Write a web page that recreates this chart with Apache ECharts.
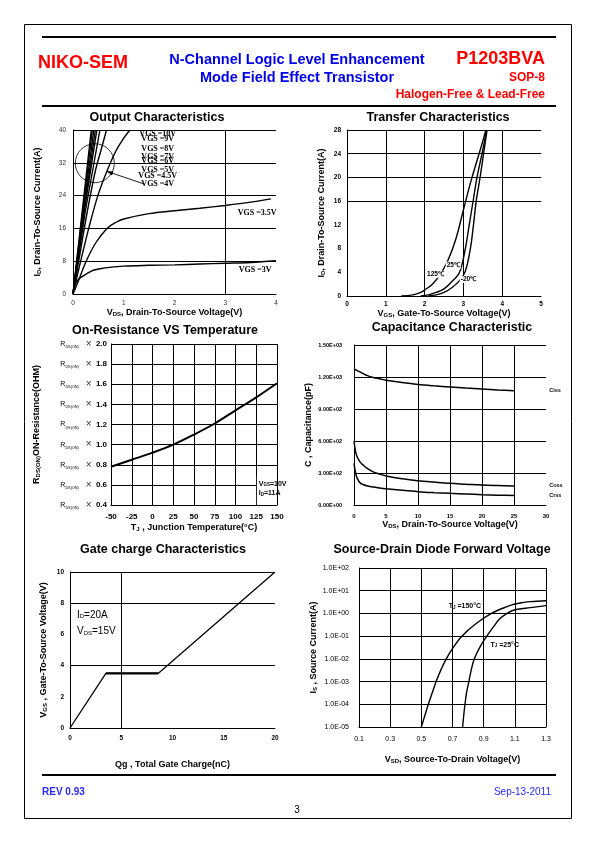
<!DOCTYPE html>
<html><head><meta charset="utf-8">
<script src="https://cdn.jsdelivr.net/npm/echarts@6/dist/echarts.min.js"></script>
<style>html,body{margin:0;padding:0;background:#fff}#c{width:595px;height:842px}</style>
</head><body><div id="c"></div>
<script>
// ===== DATA =====
// Output characteristics: [VDS (V), ID (A)]
const out_10V = [[0,0],[0.18,20],[0.36,40]];
const out_9V  = [[0,0],[0.19,20],[0.38,40]];
const out_8V  = [[0,0],[0.2,20],[0.41,40]];
const out_7V  = [[0,0],[0.21,20],[0.44,40]];
const out_6V  = [[0,0],[0.22,20],[0.47,40]];
const out_5V  = [[0,0],[0.24,20],[0.53,40]];
const out_45V = [[0,0],[0.14,10],[0.28,20],[0.44,30],[0.55,35],[0.66,40]];
const out_4V  = [[0,0],[0.16,8.5],[0.32,16.5],[0.49,24],[0.67,30],[0.85,35],[1.0,38],[1.12,40]];
const out_35V = [[0,0],[0.1,3],[0.26,8],[0.45,12.5],[0.67,16],[0.85,17.5],[1,18.3],[1.5,19.6],[2,20.3],[2.5,20.9],[3,21.6],[3.5,22.4],[3.9,23.2]];
const out_3V  = [[0,0],[0.03,2],[0.08,3.2],[0.15,4],[0.25,4.8],[0.4,5.8],[0.6,6.3],[1,6.8],[1.5,7.0],[2,7.1],[2.5,7.3],[3,7.5],[3.5,7.7],[4,8.1]];
const outLabels = ['VGS =10V','VGS =9V','VGS =8V','VGS =7V','VGS =6V','VGS =5V','VGS =4.5V','VGS =4V'];

// Transfer characteristics: [VGS (V), ID (A)]
const tr_125C = [[1.4,0],[1.7,0.2],[1.9,0.6],[2.0,1.0],[2.2,2.0],[2.4,3.6],[2.6,6.0],[2.8,9.5],[3.0,14.5],[3.2,19.5],[3.45,25],[3.58,28]];
const tr_25C  = [[1.9,0],[2.1,0.2],[2.3,0.6],[2.5,1.2],[2.7,2.4],[2.9,4.0],[3.05,8],[3.15,12],[3.25,16],[3.35,20],[3.48,24],[3.6,28]];
const tr_m20C = [[2.1,0],[2.3,0.2],[2.5,0.6],[2.7,1.4],[2.9,2.6],[3.05,4.2],[3.18,8],[3.26,12],[3.33,16],[3.43,20],[3.52,24],[3.61,28]];
const trGridY = [16,20,24,28];

// On-resistance vs temperature
const ron_T = [-50,-25,0,25,50,75,100,125,150];
const ron_R = [0.78,0.85,0.92,1.0,1.1,1.21,1.34,1.47,1.61];

// Capacitance (pF) vs VDS
const cap_V = [0,0.25,0.5,1,1.5,2,3,4,5,7.5,10,12.5,15,17.5,20,22.5,25];
const ciss  = [1275,1268,1260,1245,1230,1215,1195,1183,1170,1148,1130,1117,1106,1096,1087,1078,1070];
const coss  = [600,500,450,400,370,345,310,290,272,245,228,215,203,195,187,182,178];
const crss  = [390,300,250,205,190,180,168,160,153,138,125,116,109,103,97,92,88];

// Gate charge
const gate_Q = [0,3.5,8.6,20];
const gate_V = [0,3.5,3.5,10];
const gateGridY = [4,8,10];
const gateGridX = [5];

// Source-drain diode
const sd150_V = [0.50,0.52,0.545,0.57,0.595,0.625,0.66,0.705,0.76,0.85,0.95,1.05,1.1,1.15,1.2,1.3];
const sd150_I = [1e-5,2.8e-5,1e-4,3.2e-4,1e-3,3.2e-3,1e-2,3.2e-2,1e-1,0.35,1.0,2.0,2.6,3.0,3.3,3.6];
const sd25_V  = [0.765,0.772,0.78,0.79,0.805,0.82,0.84,0.875,0.92,0.97,1.0,1.05,1.1,1.2,1.3];
const sd25_I  = [1e-5,3.2e-5,1e-4,3.2e-4,1e-3,3.2e-3,1e-2,3.2e-2,1e-1,0.3,0.55,1.0,1.45,1.8,2.2];

// ===== CHART =====
const SANS = '"Liberation Sans", Arial, sans-serif';
const SERIF = '"Liberation Serif", "Times New Roman", serif';
const chart = echarts.init(document.getElementById('c'), null, {renderer:'canvas', width:595, height:842});
const zip = (a,b) => a.map((v,i)=>[v,b[i]]);
const BL = {color:'#000', width:1};

function nameRich(fs, sub){
  return {
    m:{fontSize:fs, fontWeight:'bold', fontFamily:SANS, color:'#000', lineHeight:fs+3, verticalAlign:'bottom'},
    s:{fontSize:sub, fontWeight:'bold', fontFamily:SANS, color:'#000', lineHeight:fs+3, verticalAlign:'bottom'}
  };
}
function ax(o){
  return Object.assign({
    type:'value', axisTick:{show:false},
    axisLine:{show:true, lineStyle:BL, onZero:false},
    splitLine:{show:false, lineStyle:BL},
    nameLocation:'middle',
    nameTextStyle:{fontFamily:SANS, fontWeight:'bold', fontSize:9, color:'#000', rich:nameRich(9,6)}
  }, o);
}
const lbl = (fs, bold, margin, extra) => Object.assign({fontFamily:SANS, fontSize:fs, fontWeight:bold?'bold':'normal', color:'#000', margin:margin}, extra||{});

const grids = [
  {left:73, top:130, width:203, height:164},
  {left:347, top:130, width:194, height:166},
  {left:111, top:344, width:166, height:161},
  {left:354, top:345, width:192, height:160},
  {left:70, top:572, width:205, height:156},
  {left:359, top:568, width:187, height:159}
];

const capFmt = v => { if (v===0) return '0.00E+00'; const e=Math.floor(Math.log10(v)+1e-9); const m=(v/Math.pow(10,e)).toFixed(2); return m+'E'+(e<0?'-':'+')+String(Math.abs(e)).padStart(2,'0'); };
const logFmt = v => { const e=Math.round(Math.log10(v)); return '1.0E'+(e<0?'-':'+')+String(Math.abs(e)).padStart(2,'0'); };

const xAxis = [
  ax({gridIndex:0, min:0, max:4, interval:1, axisLabel:lbl(6.5,false,6,{color:'#333'}),
      name:'{m|V}{s|DS}{m|, Drain-To-Source Voltage(V)}', nameGap:11}),
  ax({gridIndex:1, min:0, max:5, interval:1, axisLabel:lbl(6.5,true,5),
      splitLine:{show:true, lineStyle:BL, showMinLine:false, showMaxLine:false},
      name:'{m|V}{s|GS}{m|, Gate-To-Source Voltage(V)}', nameGap:4}),
  ax({gridIndex:2, min:-50, max:150, interval:25, axisLabel:lbl(8,true,8),
      splitLine:{show:true, lineStyle:BL},
      name:'{m|T}{s|J}{m| , Junction Temperature(°C)}', nameGap:15}),
  ax({gridIndex:3, min:0, max:30, interval:5, axisLabel:lbl(6,true,8),
      splitLine:{show:true, lineStyle:BL, showMinLine:false, showMaxLine:false},
      name:'{m|V}{s|DS}{m|, Drain-To-Source Voltage(V)}', nameGap:10}),
  ax({gridIndex:4, min:0, max:20, interval:5, axisLabel:lbl(6.5,true,7),
      name:'{m|Qg , Total Gate Charge(nC)}', nameGap:29}),
  ax({gridIndex:5, min:0.1, max:1.3, interval:0.2, axisLabel:lbl(7,false,9,{formatter:v=>v.toFixed(1)}),
      splitLine:{show:true, lineStyle:BL},
      name:'{m|V}{s|SD}{m|, Source-To-Drain Voltage(V)}', nameGap:25})
];
const ronRich = {
  r:{fontSize:7, fontFamily:SANS, color:'#000'},
  s:{fontSize:3.8, fontFamily:SANS, color:'#000', verticalAlign:'bottom'},
  x:{fontSize:10, fontFamily:SANS, color:'#333', width:17, align:'left'},
  v:{fontSize:8, fontWeight:'bold', fontFamily:SANS, color:'#000'}
};
const yAxis = [
  ax({gridIndex:0, min:0, max:40, interval:8, axisLabel:lbl(6.5,false,7,{color:'#333'}),
      splitLine:{show:true, lineStyle:BL},
      name:'{m|I}{s|D}{m|, Drain-To-Source Current(A)}', nameGap:31}),
  ax({gridIndex:1, min:0, max:28, interval:4, axisLabel:lbl(6.5,true,6),
      name:'{m|I}{s|D}{m|, Drain-To-Source Current(A)}', nameGap:21}),
  ax({gridIndex:2, min:0.4, max:2.0, interval:0.2,
      axisLabel:{margin:4, formatter:v=>'{r|R}{s|DS(ON)}{x| ×}{v|'+v.toFixed(1)+'}', rich:ronRich},
      splitLine:{show:true, lineStyle:BL},
      name:'{m|R}{s|DS(ON)}{m|ON-Resistance(OHM)}', nameGap:70}),
  ax({gridIndex:3, min:0, max:1500, interval:300, axisLabel:lbl(5.5,true,12,{formatter:capFmt}),
      splitLine:{show:true, lineStyle:BL},
      name:'{m|C , Capacitance(pF)}', nameGap:41}),
  ax({gridIndex:4, min:0, max:10, interval:2, axisLabel:lbl(6.5,true,6),
      name:'{m|V}{s|GS}{m| , Gate-To-Source Voltage(V)}', nameGap:22}),
  ax({gridIndex:5, type:'log', logBase:10, min:1e-5, max:100, axisLabel:lbl(7,false,10,{formatter:logFmt}),
      splitLine:{show:true, lineStyle:BL},
      name:'{m|I}{s|S}{m| , Source Current(A)}', nameGap:41})
];

function ln(gi, data, o){
  return Object.assign({type:'line', xAxisIndex:gi, yAxisIndex:gi, data:data, symbol:'none', showSymbol:false,
    lineStyle:{color:'#000', width:1.4}, smooth:0.35, silent:true, animation:false, z:3}, o||{});
}
function mk(arr, key){
  return {silent:true, symbol:['none','none'], label:{show:false}, animation:false,
    lineStyle:{type:'solid', color:'#000', width:1}, data:arr.map(v=>({[key]:v}))};
}

const series = [
  ln(0, out_10V, {smooth:false}), ln(0, out_9V, {smooth:false}), ln(0, out_8V, {smooth:false}),
  ln(0, out_7V, {smooth:false}), ln(0, out_6V, {smooth:false}), ln(0, out_5V, {smooth:false}),
  ln(0, out_45V), ln(0, out_4V), ln(0, out_35V), ln(0, out_3V, {markLine: mk([3],'xAxis')}),
  ln(1, tr_125C), ln(1, tr_25C), ln(1, tr_m20C, {markLine: mk(trGridY,'yAxis')}),
  ln(2, zip(ron_T, ron_R), {lineStyle:{color:'#000', width:2}}),
  ln(3, zip(cap_V, ciss), {lineStyle:{color:'#000', width:1.5}}),
  ln(3, zip(cap_V, coss), {lineStyle:{color:'#000', width:1.5}}),
  ln(3, zip(cap_V, crss), {lineStyle:{color:'#000', width:1.5}}),
  ln(4, zip(gate_Q, gate_V), {smooth:false, lineStyle:{color:'#000', width:1.3},
      markLine: {silent:true, symbol:['none','none'], label:{show:false}, animation:false,
        lineStyle:{type:'solid', color:'#000', width:1},
        data: gateGridY.map(v=>({yAxis:v})).concat(gateGridX.map(v=>({xAxis:v})))}}),
  ln(4, zip(gate_Q, gate_V).slice(1,3), {smooth:false, lineStyle:{color:'#000', width:2.4}}),
  ln(5, zip(sd150_V, sd150_I)), ln(5, zip(sd25_V, sd25_I))
];

chart.setOption({animation:false, textStyle:{fontFamily:SANS}, grid:grids, xAxis:xAxis, yAxis:yAxis, series:series});

// ===== GRAPHICS =====
const P = (gi,x,y) => chart.convertToPixel({gridIndex:gi}, [x,y]);
const G = [];
function T(x,y,text,font,fill,align,extra){
  G.push({type:'text', x:x, y:y, z:100, silent:true,
    style:Object.assign({text:text, font:font, fill:fill||'#000', textAlign:align||'center', textVerticalAlign:'middle'}, extra||{})});
}
// frame and rules
G.push({type:'rect', shape:{x:24.5,y:24.5,width:547,height:794}, style:{fill:'rgba(0,0,0,0)', stroke:'#000', lineWidth:1}, z:100, silent:true});
[[37],[106],[775]].forEach(r=>G.push({type:'line', shape:{x1:42,y1:r[0],x2:556,y2:r[0]}, style:{stroke:'#000', lineWidth:2.2}, z:100, silent:true}));
// header
T(38,63,'NIKO-SEM','bold 18px '+SANS,'#ff0000','left');
T(297,60,'N-Channel Logic Level Enhancement','bold 14.5px '+SANS,'#0000e6','center');
T(297,78,'Mode Field Effect Transistor','bold 14.5px '+SANS,'#0000e6','center');
T(545,59,'P1203BVA','bold 18px '+SANS,'#ff0000','right');
T(545,78,'SOP-8','bold 12px '+SANS,'#ff0000','right');
T(545,95,'Halogen-Free & Lead-Free','bold 12px '+SANS,'#ff0000','right');
// footer
T(42,792,'REV 0.93','bold 10px '+SANS,'#2a2aff','left');
T(551,792,'Sep-13-2011','10px '+SANS,'#2a2aff','right');
T(297,810,'3','10px '+SANS,'#000','center');
// chart titles
const TF = 'bold 12.5px '+SANS;
T(157,118,'Output Characteristics',TF);
T(438,118,'Transfer Characteristics',TF);
T(165,331,'On-Resistance VS Temperature',TF);
T(452,328,'Capacitance Characteristic',TF);
T(163,550,'Gate charge Characteristics',TF);
T(442,550,'Source-Drain Diode Forward Voltage',TF);

// output chart annotations
const outLabY = [39,37.7,35.4,33.5,32.4,30.2,28.8,26.8];
outLabels.forEach((t,i)=>{ const p=P(0,1.67,outLabY[i]); T(p[0],p[1],t,'bold 8px '+SERIF); });
let p = P(0,3.63,19.8); T(p[0],p[1],'VGS =3.5V','bold 8px '+SERIF);
p = P(0,3.59,5.85); T(p[0],p[1],'VGS =3V','bold 8px '+SERIF);
const cc = P(0,0.43,31.9);
G.push({type:'circle', shape:{cx:cc[0], cy:cc[1], r:19.5}, style:{fill:'rgba(0,0,0,0)', stroke:'#000', lineWidth:0.8}, z:100, silent:true});
const a1 = P(0,1.41,26.8), a2 = P(0,0.67,29.9);
G.push({type:'line', shape:{x1:a1[0],y1:a1[1],x2:a2[0],y2:a2[1]}, style:{stroke:'#000', lineWidth:0.9}, z:100, silent:true});
(function(){ const dx=a2[0]-a1[0], dy=a2[1]-a1[1], L=Math.hypot(dx,dy), ux=dx/L, uy=dy/L, px=-uy, py=ux;
  G.push({type:'polygon', shape:{points:[[a2[0],a2[1]],[a2[0]-ux*6+px*2.2,a2[1]-uy*6+py*2.2],[a2[0]-ux*6-px*2.2,a2[1]-uy*6-py*2.2]]}, style:{fill:'#000'}, z:100, silent:true}); })();

// transfer labels
const trBg = {backgroundColor:'#fff', padding:[0,1]};
p = P(1,2.28,3.67); T(p[0],p[1],'125℃','bold 6.5px '+SANS,'#000','center',trBg);
p = P(1,2.74,5.2);  T(p[0],p[1],'25℃','bold 6.5px '+SANS,'#000','center',trBg);
p = P(1,3.13,2.8);  T(p[0],p[1],'-20℃','bold 6.5px '+SANS,'#000','center',trBg);

// on-resistance box
const b1 = P(2,125,0.69), b2 = P(2,150,0.4);
G.push({type:'rect', shape:{x:b1[0]+0.6,y:b1[1],width:b2[0]-b1[0]-1.2,height:b2[1]-b1[1]-0.6}, style:{fill:'#fff'}, z:99, silent:true});
const smallRich = {m:{fontSize:7, fontWeight:'bold', fontFamily:SANS, fill:'#000', lineHeight:9, verticalAlign:'bottom'}, s:{fontSize:4.5, fontWeight:'bold', fontFamily:SANS, fill:'#000', lineHeight:9, verticalAlign:'bottom'}};
p = P(2,128,0.62); T(p[0],p[1],'{m|V}{s|GS}{m|=10V}','bold 7px '+SANS,'#000','left',{rich:smallRich});
p = P(2,128,0.525); T(p[0],p[1],'{m|I}{s|D}{m|=11A}','bold 7px '+SANS,'#000','left',{rich:smallRich});

// capacitance labels
p = P(3,30.5,1069); T(p[0],p[1],'Ciss','bold 5.5px '+SANS,'#000','left');
p = P(3,30.5,185);  T(p[0],p[1],'Coss','bold 5.5px '+SANS,'#000','left');
p = P(3,30.5,92);   T(p[0],p[1],'Crss','bold 5.5px '+SANS,'#000','left');

// gate charge labels
const gRich = {m:{fontSize:10, fontFamily:SANS, fill:'#000', lineHeight:12, verticalAlign:'bottom'}, s:{fontSize:6, fontFamily:SANS, fill:'#000', lineHeight:12, verticalAlign:'bottom'}};
p = P(4,0.68,7.32); T(p[0],p[1],'{m|I}{s|D}{m|=20A}','10px '+SANS,'#000','left',{rich:gRich});
p = P(4,0.68,6.29); T(p[0],p[1],'{m|V}{s|DS}{m|=15V}','10px '+SANS,'#000','left',{rich:gRich});

// source-drain labels
const sRich = {m:{fontSize:7, fontWeight:'bold', fontFamily:SANS, fill:'#000', lineHeight:9, verticalAlign:'bottom'}, s:{fontSize:4.5, fontWeight:'bold', fontFamily:SANS, fill:'#000', lineHeight:9, verticalAlign:'bottom'}};
p = P(5,0.676,2.24); T(p[0],p[1],'{m|T}{s|J}{m| =150°C}','bold 7px '+SANS,'#000','left',{rich:sRich});
p = P(5,0.944,0.047); T(p[0],p[1],'{m|T}{s|J}{m| =25°C}','bold 7px '+SANS,'#000','left',{rich:sRich});

chart.setOption({graphic:{elements:G}});
</script></body></html>
